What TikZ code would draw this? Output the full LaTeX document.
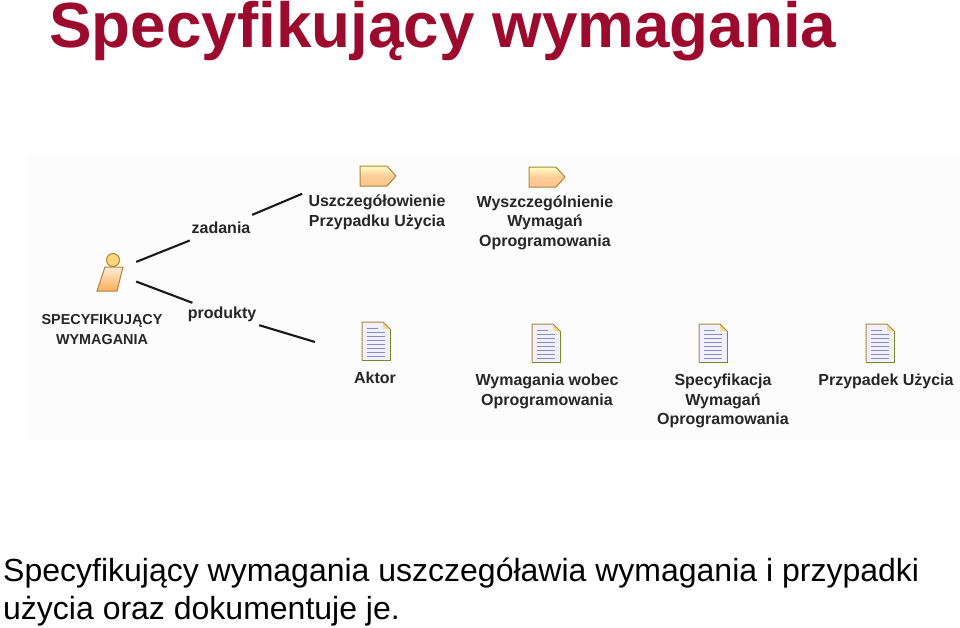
\documentclass[tikz,border=0pt]{standalone}
\usepackage{fontspec}
\setmainfont{Liberation Sans}
\usetikzlibrary{positioning,calc}
\definecolor{tytul}{HTML}{9C0A2E}
\definecolor{obrys}{HTML}{A8863C}
\definecolor{linia}{HTML}{8C8CC0}
\tikzset{
  %Define standard style for labels
  etykieta/.style={
    font=\bfseries\fontsize{16}{19.6}\selectfont,
    text=black!85,
    align=center,
    inner sep=0pt},
  %Define style for connectors
  pil/.style={
    line width=2.1pt,
    black!90},
  % Define icon of a document
  dokument/.pic={
    \fill[white!94!blue] (-14,-19) -- (7,-19) -- (14,-12) -- (14,19) -- (-14,19) -- cycle;
    \foreach \y in {-9,-5,-1,3,7,11,15}
      \draw[linia,line width=.8pt] (-9,\y) -- (9,\y);
    \draw[linia,line width=.8pt] (-9,-13) -- (2,-13);
    \fill[yellow!40!orange!45] (7,-19) -- (14,-12) -- (7,-12) -- cycle;
    \draw[obrys,line width=1pt] (-14,19) -- (-14,-19) -- (7,-19) -- (14,-12);
    \draw[black!45!green!30!obrys,line width=1pt] (14,-12) -- (14,19) -- (-14,19);
  },
  % Define icon of a task
  zakladka/.pic={
    \draw[obrys,line width=1pt,top color=yellow!25,bottom color=orange!45,middle color=orange!40] (-18,-10) -- (9,-10) -- (18,0) -- (9,10) -- (-18,10) -- cycle;
  },
  % Define icon of the role
  rola/.pic={
    \draw[obrys,line width=1pt,fill=yellow!45!orange!50] (3,-12) circle (6.5);
    \draw[obrys,line width=1pt,top color=orange!15,bottom color=orange!65] (-5,-5) -- (13,-5) -- (7,19) -- (-13,19) -- cycle;
  }
}
\begin{document}
\begin{tikzpicture}[x=1pt,y=-1pt]
  \useasboundingbox (0,0) rectangle (960,627);
  \fill[black!1] (26,155) rectangle (960,440);
  \node[anchor=base west,inner sep=0pt,font=\bfseries\fontsize{63.8}{64}\selectfont,text=tytul] (tytul) at (49,47) {Specyfikujący wymagania};

  \node[minimum width=50pt,minimum height=42pt,inner sep=0pt] (aktor) at (111,272) {};
  \pic at (110,272) {rola};
  \node[etykieta,font=\bfseries\fontsize{14.4}{19.6}\selectfont] (spec) at (102,329.5) {SPECYFIKUJĄCY\\WYMAGANIA};
  \node[etykieta,minimum width=62pt,minimum height=28pt] (zadania) at (221,228) {zadania};
  \node[etykieta,minimum width=74pt,minimum height=22pt] (produkty) at (222,314) {produkty};

  \node[etykieta,minimum width=140pt,minimum height=40pt] (uszcz) at (377,212) {Uszczegółowienie\\Przypadku Użycia};
  \pic at (378,176) {zakladka};
  \node[etykieta] (wyszcz) at (545,222.5) {Wyszczególnienie\\Wymagań\\Oprogramowania};
  \pic at (547,177) {zakladka};

  \coordinate (kon) at (315,342);
  \pic at (376,341) {dokument};
  \node[etykieta] (akt) at (375,378) {Aktor};
  \pic at (546,343) {dokument};
  \node[etykieta] (wym) at (547,391.5) {Wymagania wobec\\Oprogramowania};
  \pic at (713,343) {dokument};
  \node[etykieta] (specw) at (723,401) {Specyfikacja\\Wymagań\\Oprogramowania};
  \pic at (880,343) {dokument};
  \node[etykieta] (przyp) at (886,381) {Przypadek Użycia};

  \path[pil]
  (aktor) edge (zadania)
  (zadania) edge[shorten >=5pt] (uszcz.north west)
  (aktor) edge (produkty)
  (produkty) edge (kon)
  ;

  \node[anchor=north west,inner sep=0pt,align=left,font=\fontsize{32}{38}\selectfont] (opis) at (3,558) {Specyfikujący wymagania uszczegóławia wymagania i przypadki\\użycia oraz dokumentuje je.};
\end{tikzpicture}
\end{document}
